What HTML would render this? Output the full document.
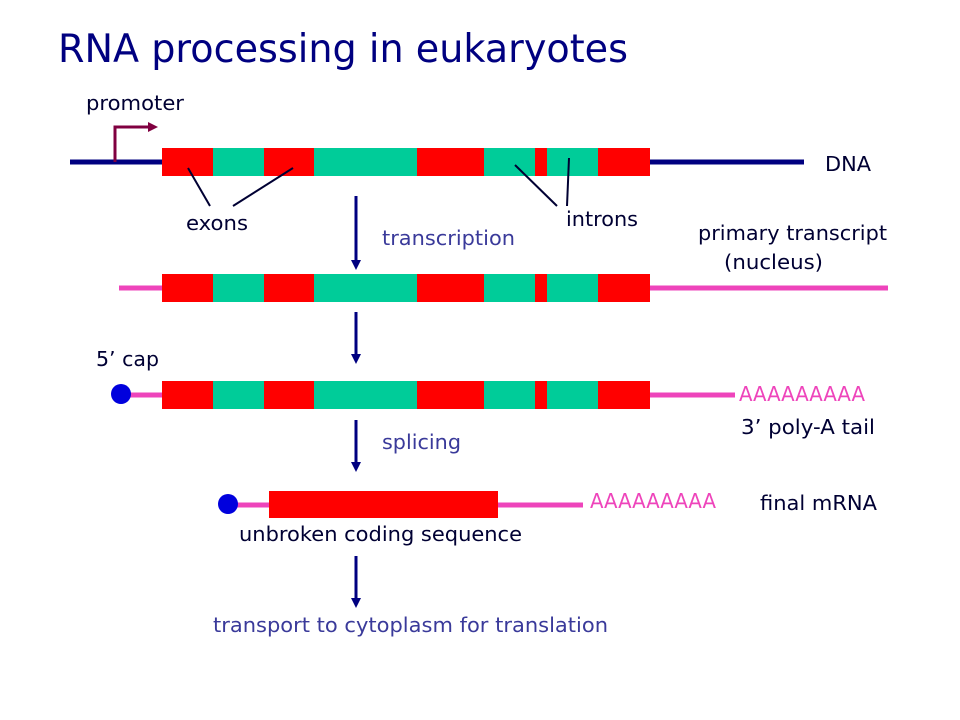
<!DOCTYPE html>
<html><head><style>
body{margin:0;background:#fff;}
svg{display:block;}
text{font-family:"DejaVu Sans","Liberation Sans",sans-serif;}
</style></head><body>
<svg width="960" height="720" viewBox="0 0 960 720" xmlns="http://www.w3.org/2000/svg">
<defs>
<g id="bar">
<rect x="162" y="0" width="51" height="28" fill="#ff0000"/>
<rect x="213" y="0" width="51" height="28" fill="#00cc99"/>
<rect x="264" y="0" width="50" height="28" fill="#ff0000"/>
<rect x="314" y="0" width="103" height="28" fill="#00cc99"/>
<rect x="417" y="0" width="67" height="28" fill="#ff0000"/>
<rect x="484" y="0" width="51" height="28" fill="#00cc99"/>
<rect x="535" y="0" width="12" height="28" fill="#ff0000"/>
<rect x="547" y="0" width="51" height="28" fill="#00cc99"/>
<rect x="598" y="0" width="52" height="28" fill="#ff0000"/>
</g>
</defs>
<text x="58" y="62" font-size="39" fill="#000080" font-family="Liberation Sans" textLength="570" lengthAdjust="spacingAndGlyphs">RNA processing in eukaryotes</text>
<text x="86" y="110" font-size="20" fill="#000033" textLength="98" lengthAdjust="spacingAndGlyphs">promoter</text>
<line x1="70" y1="162" x2="804" y2="162" stroke="#000080" stroke-width="5"/>
<polyline points="115,162 115,127 150,127" fill="none" stroke="#800040" stroke-width="3"/>
<path d="M148,122 L158,127 L148,132z" fill="#800040"/>
<use href="#bar" y="148"/>
<text x="825" y="171" font-size="20" fill="#000033" textLength="46" lengthAdjust="spacingAndGlyphs">DNA</text>
<line x1="188" y1="168" x2="210" y2="206" stroke="#000033" stroke-width="2"/>
<line x1="233" y1="206" x2="293" y2="168" stroke="#000033" stroke-width="2"/>
<line x1="515" y1="165" x2="557" y2="206" stroke="#000033" stroke-width="2"/>
<line x1="569" y1="158" x2="567" y2="206" stroke="#000033" stroke-width="2"/>
<text x="186" y="230" font-size="20" fill="#000033" textLength="62" lengthAdjust="spacingAndGlyphs">exons</text>
<text x="566" y="226" font-size="20" fill="#000033" textLength="72" lengthAdjust="spacingAndGlyphs">introns</text>
<g fill="#000080">
<line x1="356" y1="196" x2="356" y2="262" stroke="#000080" stroke-width="3"/><path d="M351,260 L361,260 L356,270z"/>
<line x1="356" y1="312" x2="356" y2="356" stroke="#000080" stroke-width="3"/><path d="M351,354 L361,354 L356,364z"/>
<line x1="356" y1="420" x2="356" y2="464" stroke="#000080" stroke-width="3"/><path d="M351,462 L361,462 L356,472z"/>
<line x1="356" y1="556" x2="356" y2="600" stroke="#000080" stroke-width="3"/><path d="M351,598 L361,598 L356,608z"/>
</g>
<text x="382" y="245" font-size="20" fill="#3a3a9a" textLength="133" lengthAdjust="spacingAndGlyphs">transcription</text>
<text x="698" y="240" font-size="20" fill="#000033" textLength="189" lengthAdjust="spacingAndGlyphs">primary transcript</text>
<text x="724" y="269" font-size="20" fill="#000033" textLength="99" lengthAdjust="spacingAndGlyphs">(nucleus)</text>
<line x1="119" y1="288" x2="888" y2="288" stroke="#ee44bb" stroke-width="5"/>
<use href="#bar" y="274"/>
<text x="96" y="366" font-size="20" fill="#000033" textLength="63" lengthAdjust="spacingAndGlyphs">5’ cap</text>
<line x1="122" y1="395" x2="735" y2="395" stroke="#ee44bb" stroke-width="5"/>
<circle cx="121" cy="394" r="10" fill="#0000dd"/>
<use href="#bar" y="381"/>
<text x="739" y="401" font-size="20" fill="#ee44bb" textLength="126" lengthAdjust="spacingAndGlyphs">AAAAAAAAA</text>
<text x="741" y="434" font-size="20" fill="#000033" textLength="134" lengthAdjust="spacingAndGlyphs">3’ poly-A tail</text>
<text x="382" y="449" font-size="20" fill="#3a3a9a" textLength="79" lengthAdjust="spacingAndGlyphs">splicing</text>
<line x1="228" y1="505" x2="583" y2="505" stroke="#ee44bb" stroke-width="5"/>
<circle cx="228" cy="504" r="10" fill="#0000dd"/>
<rect x="269" y="491" width="229" height="27" fill="#ff0000"/>
<text x="590" y="508" font-size="20" fill="#ee44bb" textLength="126" lengthAdjust="spacingAndGlyphs">AAAAAAAAA</text>
<text x="760" y="510" font-size="20" fill="#000033" textLength="117" lengthAdjust="spacingAndGlyphs">final mRNA</text>
<text x="239" y="541" font-size="20" fill="#000033" textLength="283" lengthAdjust="spacingAndGlyphs">unbroken coding sequence</text>
<text x="213" y="632" font-size="20" fill="#3a3a9a" textLength="395" lengthAdjust="spacingAndGlyphs">transport to cytoplasm for translation</text>
</svg>
</body></html>
